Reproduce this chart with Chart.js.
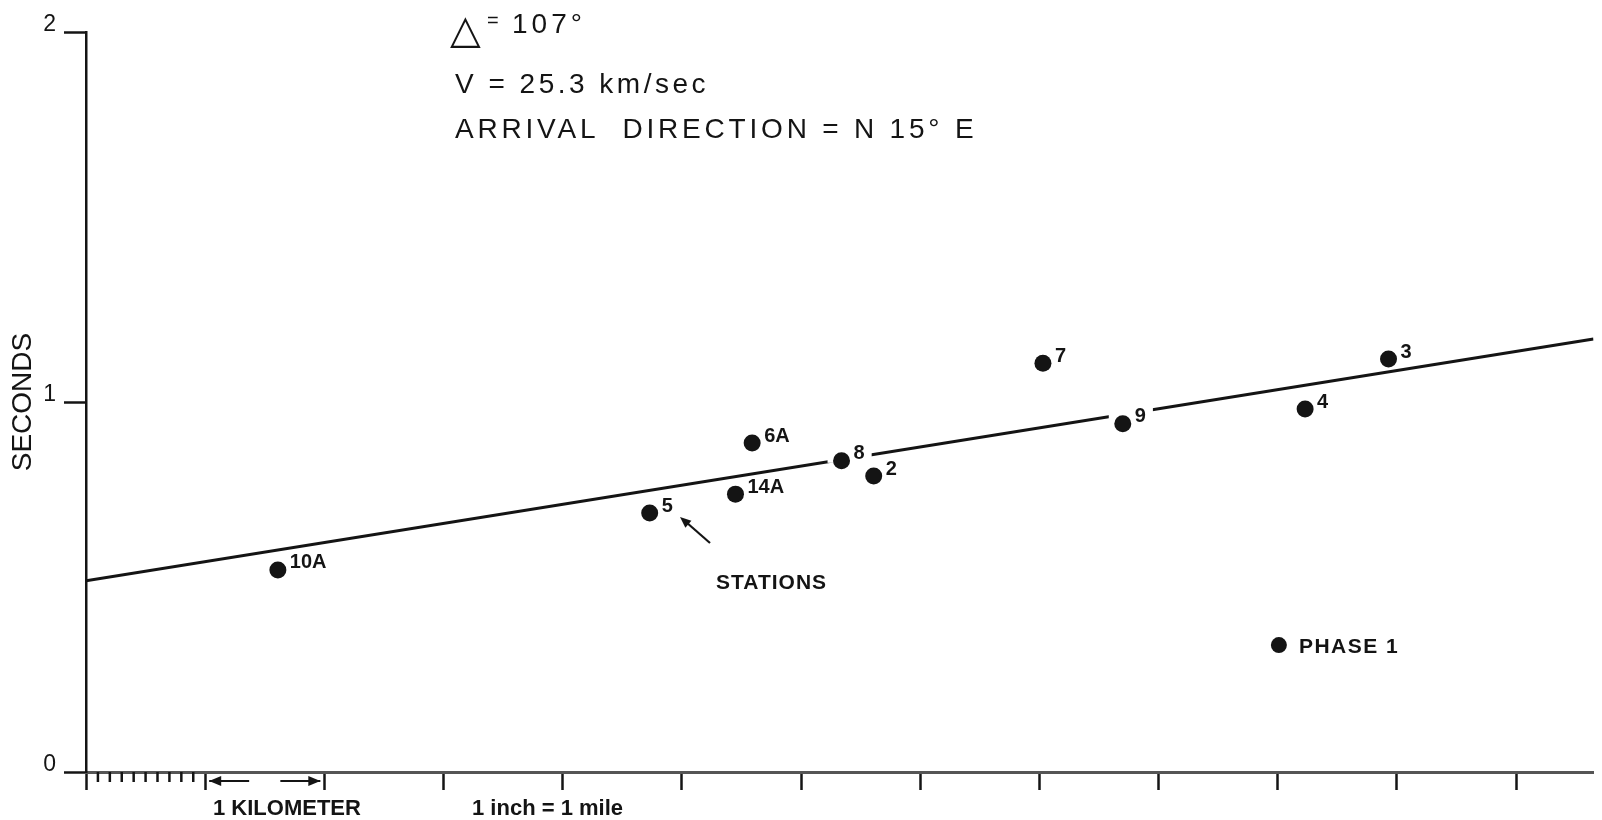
<!DOCTYPE html>
<html lang="en">
<head>
<meta charset="UTF-8">
<title>Arrival times across the array</title>
<script src="https://cdn.jsdelivr.net/npm/chart.js"></script>
<style>
  html, body { margin: 0; padding: 0; background: #ffffff; }
  #wrap { width: 1602px; height: 820px; position: relative; }
</style>
</head>
<body>
<div id="wrap"><canvas id="chart"></canvas></div>
<script>
// station readings: distance along array (miles) vs arrival time (seconds)
const stationNames = ['10A', '5', '14A', '6A', '8', '2', '7', '9', '4', '3'];
const stationMiles = [1.61, 4.73, 5.45, 5.59, 6.34, 6.61, 8.03, 8.70, 10.23, 10.93];
const stationSeconds = [0.546, 0.700, 0.751, 0.889, 0.841, 0.800, 1.105, 0.941, 0.981, 1.116];

// fitted line
const fitMiles = [0, 12.65];
const fitSeconds = [0.517, 1.170];

// axes
const milesMax = 12.65;
const secondsMax = 2;
const minorMiles = [0.1, 0.2, 0.3, 0.4, 0.5, 0.6, 0.7, 0.8, 0.9];

// labels that cut the fitted line
const knockoutLabels = ['8', '9'];

// phase key
const phaseKey = { label: 'PHASE 1', miles: 10.01, seconds: 0.343 };

const ink = '#141414';
const sans = "'Liberation Sans', Arial, sans-serif";

function labelFont() { return 'bold 20px ' + sans; }

const annotations = {
    id: 'annotations',
    afterDatasetDraw(chart, args) {
        if (args.index !== 0) return;
        // white gaps in the fit line behind some station labels
        const ctx = chart.ctx;
        const x = chart.scales.x, y = chart.scales.y;
        ctx.save();
        ctx.font = labelFont();
        ctx.fillStyle = '#ffffff';
        stationNames.forEach((name, i) => {
            if (!knockoutLabels.includes(name)) return;
            const px = x.getPixelForValue(stationMiles[i]);
            const py = y.getPixelForValue(stationSeconds[i]);
            const w = ctx.measureText(name).width;
            ctx.fillRect(px - 14, py - 20, 12 + w + 21, 22);
        });
        ctx.restore();
    },
    afterDatasetsDraw(chart) {
        const ctx = chart.ctx;
        const x = chart.scales.x, y = chart.scales.y;
        ctx.save();
        ctx.fillStyle = ink;
        ctx.strokeStyle = ink;

        // station labels
        ctx.font = labelFont();
        ctx.textBaseline = 'middle';
        ctx.textAlign = 'left';
        stationNames.forEach((name, i) => {
            const px = x.getPixelForValue(stationMiles[i]);
            const py = y.getPixelForValue(stationSeconds[i]);
            ctx.fillText(name, px + 12, py - 7);
        });

        // minor ticks on the first mile
        ctx.lineWidth = 2.5;
        const base = chart.chartArea.bottom;
        minorMiles.forEach(m => {
            const px = x.getPixelForValue(m);
            ctx.beginPath();
            ctx.moveTo(px, base);
            ctx.lineTo(px, base + 10);
            ctx.stroke();
        });

        // kilometer arrows between the first two ticks
        const a = x.getPixelForValue(1) + 4;
        const b = x.getPixelForValue(2) - 4;
        const ay = base + 9;
        ctx.lineWidth = 2;
        [[a + 40, a], [b - 40, b]].forEach(([from, to]) => {
            const dir = Math.sign(to - from);
            ctx.beginPath();
            ctx.moveTo(from, ay);
            ctx.lineTo(to, ay);
            ctx.stroke();
            ctx.beginPath();
            ctx.moveTo(to, ay);
            ctx.lineTo(to - dir * 12, ay - 5);
            ctx.lineTo(to - dir * 12, ay + 5);
            ctx.closePath();
            ctx.fill();
        });

        // phase key
        const kx = x.getPixelForValue(phaseKey.miles);
        const ky = y.getPixelForValue(phaseKey.seconds);
        ctx.beginPath();
        ctx.arc(kx, ky, 8, 0, Math.PI * 2);
        ctx.fill();
        ctx.font = 'bold 21px ' + sans;
        ctx.letterSpacing = '1.5px';
        ctx.textBaseline = 'alphabetic';
        ctx.fillText(phaseKey.label, kx + 20, ky + 8);

        // stations pointer
        ctx.letterSpacing = '1px';
        ctx.fillText('STATIONS', 716, 589);
        ctx.lineWidth = 2.2;
        ctx.beginPath();
        ctx.moveTo(710, 543);
        ctx.lineTo(686, 522);
        ctx.stroke();
        const ang = Math.atan2(519 - 543, 682 - 710);
        ctx.beginPath();
        ctx.moveTo(680, 517);
        ctx.lineTo(680 - 12 * Math.cos(ang - 0.4), 517 - 12 * Math.sin(ang - 0.4));
        ctx.lineTo(680 - 12 * Math.cos(ang + 0.4), 517 - 12 * Math.sin(ang + 0.4));
        ctx.closePath();
        ctx.fill();

        // scale notes under the axis
        ctx.font = 'bold 22px ' + sans;
        ctx.letterSpacing = '0px';
        ctx.fillText('1 KILOMETER', 213, 815);
        ctx.fillText('1 inch = 1 mile', 472, 815);

        // heading notes
        ctx.font = "40px 'DejaVu Sans', sans-serif";
        ctx.fillText('\u25B3', 450, 43);
        ctx.font = '20px ' + sans;
        ctx.fillText('=', 487, 27);
        ctx.font = '28px ' + sans;
        ctx.letterSpacing = '4px';
        ctx.fillText('107°', 512, 33);
        ctx.letterSpacing = '3.5px';
        ctx.fillText('V = 25.3 km/sec', 455, 93);
        ctx.letterSpacing = '3.8px';
        ctx.fillText('ARRIVAL  DIRECTION = N 15° E', 455, 138);
        ctx.restore();
    }
};

new Chart(document.getElementById('chart'), {
    data: {
        datasets: [
            {
                type: 'line',
                data: fitMiles.map((m, i) => ({ x: m, y: fitSeconds[i] })),
                borderColor: ink,
                borderWidth: 3,
                pointRadius: 0,
                fill: false,
                order: 2
            },
            {
                type: 'scatter',
                data: stationMiles.map((m, i) => ({ x: m, y: stationSeconds[i] })),
                backgroundColor: ink,
                borderWidth: 0,
                pointRadius: 8.5,
                pointHoverRadius: 8.5,
                order: 1
            }
        ]
    },
    options: {
        responsive: true,
        maintainAspectRatio: false,
        animation: false,
        layout: { padding: { top: 32, right: 0, bottom: 30, left: 0 } },
        plugins: { legend: { display: false }, tooltip: { enabled: false } },
        scales: {
            x: {
                type: 'linear',
                min: 0,
                max: milesMax,
                afterFit(scale) { scale.height = 18; },
                ticks: { stepSize: 1, includeBounds: false, display: false },
                grid: { drawOnChartArea: false, drawTicks: true, tickLength: 18, tickColor: ink, tickWidth: 2.5 },
                border: { color: '#555555', width: 3 }
            },
            y: {
                type: 'linear',
                min: 0,
                max: secondsMax,
                afterFit(scale) { scale.width = 86; },
                ticks: {
                    stepSize: 1,
                    includeBounds: false,
                    color: ink,
                    font: { family: sans, size: 23 },
                    padding: 8,
                    labelOffset: -7,
                    callback: v => String(v)
                },
                grid: { drawOnChartArea: false, drawTicks: true, tickLength: 22, tickColor: ink, tickWidth: 2.5 },
                border: { color: ink, width: 2.5 },
                title: {
                    display: true,
                    text: 'SECONDS',
                    color: ink,
                    font: { family: sans, size: 28 },
                    padding: { top: 6, bottom: 0 }
                }
            }
        }
    },
    plugins: [annotations]
});
</script>
</body>
</html>
